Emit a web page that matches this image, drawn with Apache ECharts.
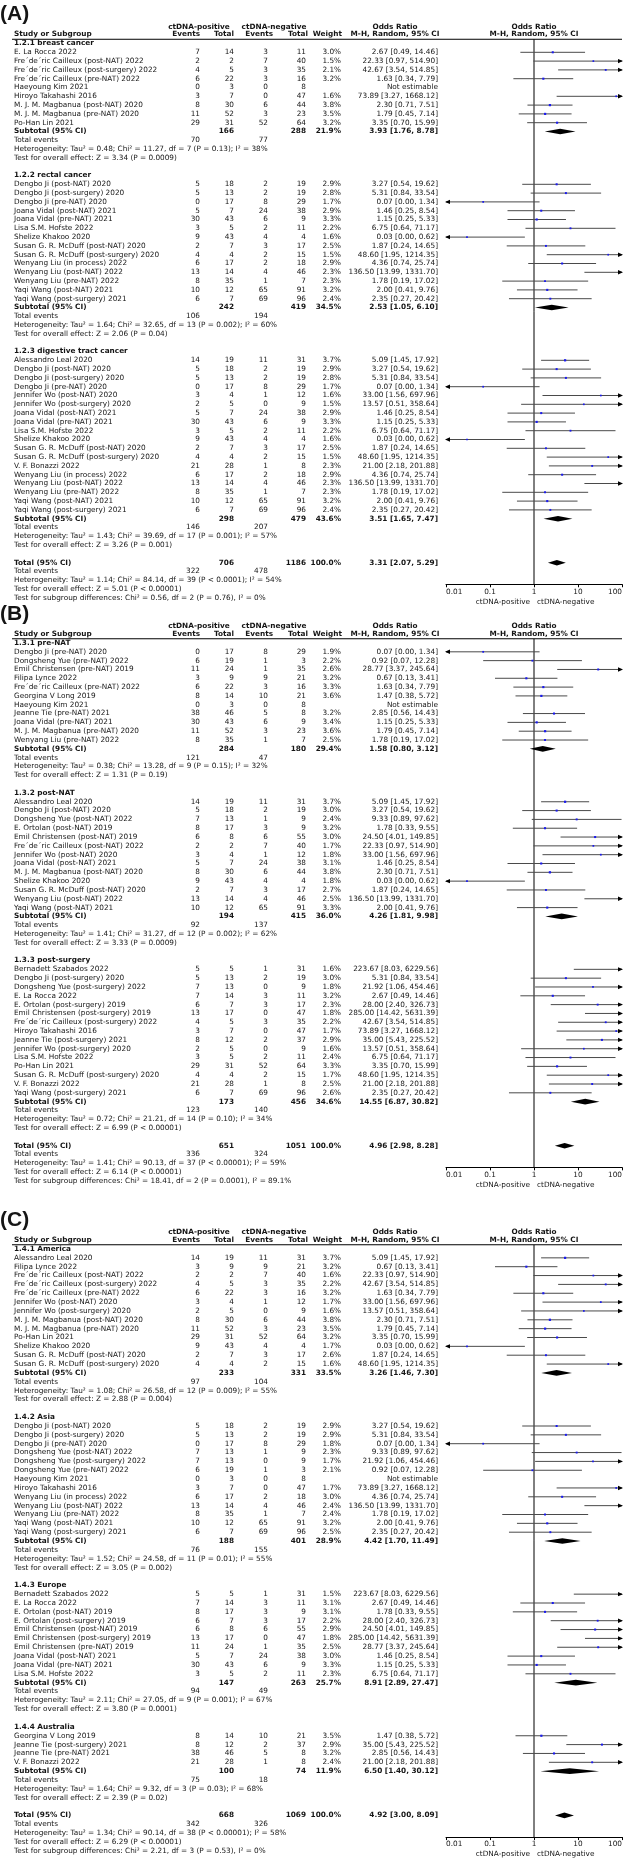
<!DOCTYPE html>
<html><head><meta charset="utf-8">
<script src="https://cdn.jsdelivr.net/npm/echarts/dist/echarts.min.js"></script>
<style>html,body{margin:0;padding:0;background:#fff}#c{width:631px;height:1858px}</style>
</head><body><div id="c"></div>
<script>
// ===================== DATA: Panel A =====================
const A_groupLabels = ["1.2.1 breast cancer", "1.2.2 rectal cancer", "1.2.3 digestive tract cancer"];
const A_groupSizes = [9, 14, 18];
const A_names = [
  "E. La Rocca 2022", "Fre´de´ric Cailleux (post-NAT) 2022", "Fre´de´ric Cailleux (post-surgery) 2022", "Fre´de´ric Cailleux (pre-NAT) 2022",
  "Haeyoung Kim 2021", "Hiroyo Takahashi 2016", "M. J. M. Magbanua (post-NAT) 2020", "M. J. M. Magbanua (pre-NAT) 2020", "Po-Han Lin 2021",
  "Dengbo Ji (post-NAT) 2020", "Dengbo Ji (post-surgery) 2020", "Dengbo Ji (pre-NAT) 2020", "Joana Vidal (post-NAT) 2021", "Joana Vidal (pre-NAT) 2021",
  "Lisa S.M. Hofste 2022", "Shelize Khakoo 2020", "Susan G. R. McDuff (post-NAT) 2020", "Susan G. R. McDuff (post-surgery) 2020",
  "Wenyang Liu (in process) 2022", "Wenyang Liu (post-NAT) 2022", "Wenyang Liu (pre-NAT) 2022", "Yaqi Wang (post-NAT) 2021", "Yaqi Wang (post-surgery) 2021",
  "Alessandro Leal 2020", "Dengbo Ji (post-NAT) 2020", "Dengbo Ji (post-surgery) 2020", "Dengbo Ji (pre-NAT) 2020", "Jennifer Wo (post-NAT) 2020",
  "Jennifer Wo (post-surgery) 2020", "Joana Vidal (post-NAT) 2021", "Joana Vidal (pre-NAT) 2021", "Lisa S.M. Hofste 2022", "Shelize Khakoo 2020",
  "Susan G. R. McDuff (post-NAT) 2020", "Susan G. R. McDuff (post-surgery) 2020", "V. F. Bonazzi 2022", "Wenyang Liu (in process) 2022",
  "Wenyang Liu (post-NAT) 2022", "Wenyang Liu (pre-NAT) 2022", "Yaqi Wang (post-NAT) 2021", "Yaqi Wang (post-surgery) 2021"
];
const A_evPos = [7,2,4,6,0,3,8,11,29, 5,5,0,5,30,3,9,2,4,6,13,8,10,6, 14,5,5,0,3,2,5,30,3,9,2,4,21,6,13,8,10,6];
const A_totPos = [14,2,5,22,3,7,30,52,31, 18,13,17,7,43,5,43,7,4,17,14,35,12,7, 19,18,13,17,4,5,7,43,5,43,7,4,28,17,14,35,12,7];
const A_evNeg = [3,7,3,3,0,0,6,3,52, 2,2,8,24,6,2,4,3,2,2,4,1,65,69, 11,2,2,8,1,0,24,6,2,4,3,2,1,2,4,1,65,69];
const A_totNeg = [11,40,35,16,8,47,44,23,64, 19,19,29,38,9,11,4,17,15,18,46,7,91,96, 31,19,19,29,12,9,38,9,11,4,17,15,8,18,46,7,91,96];
const A_weight = [3.0,1.5,2.1,3.2,null,1.6,3.8,3.5,3.2, 2.9,2.8,1.7,2.9,3.3,2.2,1.6,2.5,1.5,2.9,2.3,2.3,3.2,2.4, 3.7,2.9,2.8,1.7,1.6,1.5,2.9,3.3,2.2,1.6,2.5,1.5,2.3,2.9,2.3,2.3,3.2,2.4];
const A_or = [2.67,22.33,42.67,1.63,null,73.89,2.30,1.79,3.35, 3.27,5.31,0.07,1.46,1.15,6.75,0.03,1.87,48.60,4.36,136.50,1.78,2.00,2.35, 5.09,3.27,5.31,0.07,33.00,13.57,1.46,1.15,6.75,0.03,1.87,48.60,21.00,4.36,136.50,1.78,2.00,2.35];
const A_lo = [0.49,0.97,3.54,0.34,null,3.27,0.71,0.45,0.70, 0.54,0.84,0.00,0.25,0.25,0.64,0.00,0.24,1.95,0.74,13.99,0.19,0.41,0.27, 1.45,0.54,0.84,0.00,1.56,0.51,0.25,0.25,0.64,0.00,0.24,1.95,2.18,0.74,13.99,0.19,0.41,0.27];
const A_hi = [14.46,514.90,514.85,7.79,null,1668.12,7.51,7.14,15.99, 19.62,33.54,1.34,8.54,5.33,71.17,0.62,14.65,1214.35,25.74,1331.70,17.02,9.76,20.42, 17.92,19.62,33.54,1.34,697.96,358.64,8.54,5.33,71.17,0.62,14.65,1214.35,201.88,25.74,1331.70,17.02,9.76,20.42];
const A_subTotPos = [166, 242, 298];
const A_subTotNeg = [288, 419, 479];
const A_subWeight = [21.9, 34.5, 43.6];
const A_subOR = [3.93, 2.53, 3.51];
const A_subLo = [1.76, 1.05, 1.65];
const A_subHi = [8.78, 6.10, 7.47];
const A_subEvPos = [70, 106, 146];
const A_subEvNeg = [77, 194, 207];
const A_subHet = [
  "Heterogeneity: Tau² = 0.48; Chi² = 11.27, df = 7 (P = 0.13); I² = 38%",
  "Heterogeneity: Tau² = 1.64; Chi² = 32.65, df = 13 (P = 0.002); I² = 60%",
  "Heterogeneity: Tau² = 1.43; Chi² = 39.69, df = 17 (P = 0.001); I² = 57%"];
const A_subTest = ["Test for overall effect: Z = 3.34 (P = 0.0009)", "Test for overall effect: Z = 2.06 (P = 0.04)", "Test for overall effect: Z = 3.26 (P = 0.001)"];
const A_allTot = [706, 1186];
const A_allEv = [322, 478];
const A_allOR = [3.31, 2.07, 5.29];
const A_allNotes = [
  "Heterogeneity: Tau² = 1.14; Chi² = 84.14, df = 39 (P < 0.0001); I² = 54%",
  "Test for overall effect: Z = 5.01 (P < 0.00001)",
  "Test for subgroup differences: Chi² = 0.56, df = 2 (P = 0.76), I² = 0%"];

// ===================== DATA: Panel B =====================
const B_groupLabels = ["1.3.1 pre-NAT", "1.3.2 post-NAT", "1.3.3 post-surgery"];
const B_groupSizes = [11, 13, 15];
const B_names = [
  "Dengbo Ji (pre-NAT) 2020", "Dongsheng Yue (pre-NAT) 2022", "Emil Christensen (pre-NAT) 2019", "Filipa Lynce 2022", "Fre´de´ric Cailleux (pre-NAT) 2022",
  "Georgina V Long 2019", "Haeyoung Kim 2021", "Jeanne Tie (pre-NAT) 2021", "Joana Vidal (pre-NAT) 2021", "M. J. M. Magbanua (pre-NAT) 2020", "Wenyang Liu (pre-NAT) 2022",
  "Alessandro Leal 2020", "Dengbo Ji (post-NAT) 2020", "Dongsheng Yue (post-NAT) 2022", "E. Ortolan (post-NAT) 2019", "Emil Christensen (post-NAT) 2019",
  "Fre´de´ric Cailleux (post-NAT) 2022", "Jennifer Wo (post-NAT) 2020", "Joana Vidal (post-NAT) 2021", "M. J. M. Magbanua (post-NAT) 2020", "Shelize Khakoo 2020",
  "Susan G. R. McDuff (post-NAT) 2020", "Wenyang Liu (post-NAT) 2022", "Yaqi Wang (post-NAT) 2021",
  "Bernadett Szabados 2022", "Dengbo Ji (post-surgery) 2020", "Dongsheng Yue (post-surgery) 2022", "E. La Rocca 2022", "E. Ortolan (post-surgery) 2019",
  "Emil Christensen (post-surgery) 2019", "Fre´de´ric Cailleux (post-surgery) 2022", "Hiroyo Takahashi 2016", "Jeanne Tie (post-surgery) 2021",
  "Jennifer Wo (post-surgery) 2020", "Lisa S.M. Hofste 2022", "Po-Han Lin 2021", "Susan G. R. McDuff (post-surgery) 2020", "V. F. Bonazzi 2022", "Yaqi Wang (post-surgery) 2021"
];
const B_evPos = [0,6,11,3,6,8,0,38,30,11,8, 14,5,7,8,6,2,3,5,8,9,2,13,10, 5,5,7,7,6,13,4,3,8,2,3,29,4,21,6];
const B_totPos = [17,19,24,9,22,14,3,46,43,52,35, 19,18,13,17,8,2,4,7,30,43,7,14,12, 5,13,13,14,7,17,5,7,12,5,5,31,4,28,7];
const B_evNeg = [8,1,1,9,3,10,0,5,6,3,1, 11,2,1,3,6,7,1,24,6,4,3,4,65, 1,2,0,3,3,0,3,0,2,0,2,52,2,1,69];
const B_totNeg = [29,3,35,21,16,21,8,8,9,23,7, 31,19,9,9,55,40,12,38,44,4,17,46,91, 31,19,9,11,17,47,35,47,37,9,11,64,15,8,96];
const B_weight = [1.9,2.2,2.6,3.2,3.3,3.6,null,3.2,3.4,3.6,2.5, 3.7,3.0,2.4,3.2,3.0,1.7,1.8,3.1,3.8,1.8,2.7,2.5,3.3, 1.6,3.0,1.8,3.2,2.3,1.8,2.2,1.7,2.9,1.6,2.4,3.3,1.7,2.5,2.6];
const B_or = [0.07,0.92,28.77,0.67,1.63,1.47,null,2.85,1.15,1.79,1.78, 5.09,3.27,9.33,1.78,24.50,22.33,33.00,1.46,2.30,0.03,1.87,136.50,2.00, 223.67,5.31,21.92,2.67,28.00,285.00,42.67,73.89,35.00,13.57,6.75,3.35,48.60,21.00,2.35];
const B_lo = [0.00,0.07,3.37,0.13,0.34,0.38,null,0.56,0.25,0.45,0.19, 1.45,0.54,0.89,0.33,4.01,0.97,1.56,0.25,0.71,0.00,0.24,13.99,0.41, 8.03,0.84,1.06,0.49,2.40,14.42,3.54,3.27,5.43,0.51,0.64,0.70,1.95,2.18,0.27];
const B_hi = [1.34,12.28,245.64,3.41,7.79,5.72,null,14.43,5.33,7.14,17.02, 17.92,19.62,97.62,9.55,149.85,514.90,697.96,8.54,7.51,0.62,14.65,1331.70,9.76, 6229.56,33.54,454.46,14.46,326.73,5631.39,514.85,1668.12,225.52,358.64,71.17,15.99,1214.35,201.88,20.42];
const B_subTotPos = [284, 194, 173];
const B_subTotNeg = [180, 415, 456];
const B_subWeight = [29.4, 36.0, 34.6];
const B_subOR = [1.58, 4.26, 14.55];
const B_subLo = [0.80, 1.81, 6.87];
const B_subHi = [3.12, 9.98, 30.82];
const B_subEvPos = [121, 92, 123];
const B_subEvNeg = [47, 137, 140];
const B_subHet = [
  "Heterogeneity: Tau² = 0.38; Chi² = 13.28, df = 9 (P = 0.15); I² = 32%",
  "Heterogeneity: Tau² = 1.41; Chi² = 31.27, df = 12 (P = 0.002); I² = 62%",
  "Heterogeneity: Tau² = 0.72; Chi² = 21.21, df = 14 (P = 0.10); I² = 34%"];
const B_subTest = ["Test for overall effect: Z = 1.31 (P = 0.19)", "Test for overall effect: Z = 3.33 (P = 0.0009)", "Test for overall effect: Z = 6.99 (P < 0.00001)"];
const B_allTot = [651, 1051];
const B_allEv = [336, 324];
const B_allOR = [4.96, 2.98, 8.28];
const B_allNotes = [
  "Heterogeneity: Tau² = 1.41; Chi² = 90.13, df = 37 (P < 0.00001); I² = 59%",
  "Test for overall effect: Z = 6.14 (P < 0.00001)",
  "Test for subgroup differences: Chi² = 18.41, df = 2 (P = 0.0001), I² = 89.1%"];

// ===================== DATA: Panel C =====================
const C_groupLabels = ["1.4.1 America", "1.4.2 Asia", "1.4.3 Europe", "1.4.4 Australia"];
const C_groupSizes = [13, 13, 10, 4];
const C_names = [
  "Alessandro Leal 2020", "Filipa Lynce 2022", "Fre´de´ric Cailleux (post-NAT) 2022", "Fre´de´ric Cailleux (post-surgery) 2022", "Fre´de´ric Cailleux (pre-NAT) 2022",
  "Jennifer Wo (post-NAT) 2020", "Jennifer Wo (post-surgery) 2020", "M. J. M. Magbanua (post-NAT) 2020", "M. J. M. Magbanua (pre-NAT) 2020", "Po-Han Lin 2021",
  "Shelize Khakoo 2020", "Susan G. R. McDuff (post-NAT) 2020", "Susan G. R. McDuff (post-surgery) 2020",
  "Dengbo Ji (post-NAT) 2020", "Dengbo Ji (post-surgery) 2020", "Dengbo Ji (pre-NAT) 2020", "Dongsheng Yue (post-NAT) 2022", "Dongsheng Yue (post-surgery) 2022",
  "Dongsheng Yue (pre-NAT) 2022", "Haeyoung Kim 2021", "Hiroyo Takahashi 2016", "Wenyang Liu (in process) 2022", "Wenyang Liu (post-NAT) 2022",
  "Wenyang Liu (pre-NAT) 2022", "Yaqi Wang (post-NAT) 2021", "Yaqi Wang (post-surgery) 2021",
  "Bernadett Szabados 2022", "E. La Rocca 2022", "E. Ortolan (post-NAT) 2019", "E. Ortolan (post-surgery) 2019", "Emil Christensen (post-NAT) 2019",
  "Emil Christensen (post-surgery) 2019", "Emil Christensen (pre-NAT) 2019", "Joana Vidal (post-NAT) 2021", "Joana Vidal (pre-NAT) 2021", "Lisa S.M. Hofste 2022",
  "Georgina V Long 2019", "Jeanne Tie (post-surgery) 2021", "Jeanne Tie (pre-NAT) 2021", "V. F. Bonazzi 2022"
];
const C_evPos = [14,3,2,4,6,3,2,8,11,29,9,2,4, 5,5,0,7,7,6,0,3,6,13,8,10,6, 5,7,8,6,6,13,11,5,30,3, 8,8,38,21];
const C_totPos = [19,9,2,5,22,4,5,30,52,31,43,7,4, 18,13,17,13,13,19,3,7,17,14,35,12,7, 5,14,17,7,8,17,24,7,43,5, 14,12,46,28];
const C_evNeg = [11,9,7,3,3,1,0,6,3,52,4,3,2, 2,2,8,1,0,1,0,0,2,4,1,65,69, 1,3,3,3,6,0,1,24,6,2, 10,2,5,1];
const C_totNeg = [31,21,40,35,16,12,9,44,23,64,4,17,15, 19,19,29,9,9,3,8,47,18,46,7,91,96, 31,11,9,17,55,47,35,38,9,11, 21,37,8,8];
const C_weight = [3.7,3.2,1.6,2.2,3.2,1.7,1.6,3.8,3.5,3.2,1.7,2.6,1.6, 2.9,2.9,1.8,2.3,1.7,2.1,null,1.7,3.0,2.4,2.4,3.2,2.5, 1.5,3.1,3.1,2.2,2.9,1.8,2.5,3.0,3.3,2.3, 3.5,2.9,3.2,2.4];
const C_or = [5.09,0.67,22.33,42.67,1.63,33.00,13.57,2.30,1.79,3.35,0.03,1.87,48.60, 3.27,5.31,0.07,9.33,21.92,0.92,null,73.89,4.36,136.50,1.78,2.00,2.35, 223.67,2.67,1.78,28.00,24.50,285.00,28.77,1.46,1.15,6.75, 1.47,35.00,2.85,21.00];
const C_lo = [1.45,0.13,0.97,3.54,0.34,1.56,0.51,0.71,0.45,0.70,0.00,0.24,1.95, 0.54,0.84,0.00,0.89,1.06,0.07,null,3.27,0.74,13.99,0.19,0.41,0.27, 8.03,0.49,0.33,2.40,4.01,14.42,3.37,0.25,0.25,0.64, 0.38,5.43,0.56,2.18];
const C_hi = [17.92,3.41,514.90,514.85,7.79,697.96,358.64,7.51,7.14,15.99,0.62,14.65,1214.35, 19.62,33.54,1.34,97.62,454.46,12.28,null,1668.12,25.74,1331.70,17.02,9.76,20.42, 6229.56,14.46,9.55,326.73,149.85,5631.39,245.64,8.54,5.33,71.17, 5.72,225.52,14.43,201.88];
const C_subTotPos = [233, 188, 147, 100];
const C_subTotNeg = [331, 401, 263, 74];
const C_subWeight = [33.5, 28.9, 25.7, 11.9];
const C_subOR = [3.26, 4.42, 8.91, 6.50];
const C_subLo = [1.46, 1.70, 2.89, 1.40];
const C_subHi = [7.30, 11.49, 27.47, 30.12];
const C_subEvPos = [97, 76, 94, 75];
const C_subEvNeg = [104, 155, 49, 18];
const C_subHet = [
  "Heterogeneity: Tau² = 1.08; Chi² = 26.58, df = 12 (P = 0.009); I² = 55%",
  "Heterogeneity: Tau² = 1.52; Chi² = 24.58, df = 11 (P = 0.01); I² = 55%",
  "Heterogeneity: Tau² = 2.11; Chi² = 27.05, df = 9 (P = 0.001); I² = 67%",
  "Heterogeneity: Tau² = 1.64; Chi² = 9.32, df = 3 (P = 0.03); I² = 68%"];
const C_subTest = ["Test for overall effect: Z = 2.88 (P = 0.004)", "Test for overall effect: Z = 3.05 (P = 0.002)", "Test for overall effect: Z = 3.80 (P = 0.0001)", "Test for overall effect: Z = 2.39 (P = 0.02)"];
const C_allTot = [668, 1069];
const C_allEv = [342, 326];
const C_allOR = [4.92, 3.00, 8.09];
const C_allNotes = [
  "Heterogeneity: Tau² = 1.34; Chi² = 90.14, df = 38 (P < 0.00001); I² = 58%",
  "Test for overall effect: Z = 6.29 (P < 0.00001)",
  "Test for subgroup differences: Chi² = 2.21, df = 3 (P = 0.53), I² = 0%"];

const tickLabels = ["0.01", "0.1", "1", "10", "100"];
const groupHeaders = ["ctDNA-positive", "ctDNA-negative"];

// ===================== LAYOUT =====================
const W = 631;
const FAM = '"DejaVu Sans", Verdana, sans-serif';
// calibrate the table font so one reference line spans the width it has in the picture (~254 px)
const FS = (function () {
  const ctx = document.createElement('canvas').getContext('2d');
  ctx.font = '20px ' + FAM;
  const w20 = ctx.measureText(A_subHet[0]).width;
  const fs = 20 * 254 / w20;
  return Math.max(6.2, Math.min(8.6, fs));
})();
const COL = {name: 14, ev1: 200, tot1: 234, ev2: 268, tot2: 306, wt: 341, or: 438};
const HDR = {pos: 199, neg: 274, orL: 395, orR: 534};
const FOREST = {left: 446, right: 622};
const XMIN = 0.01, XMAX = 100;
const TEXT = '#151515', CI_COLOR = '#4a4a4a', SQ_COLOR = '#1a1aee';

const panels = [
  {label: "(A)", y0: 43.5, p: 8.8, gl: A_groupLabels, gs: A_groupSizes, names: A_names, evPos: A_evPos, totPos: A_totPos, evNeg: A_evNeg, totNeg: A_totNeg,
   weight: A_weight, or: A_or, lo: A_lo, hi: A_hi, sTP: A_subTotPos, sTN: A_subTotNeg, sW: A_subWeight, sOR: A_subOR, sLo: A_subLo, sHi: A_subHi,
   sEP: A_subEvPos, sEN: A_subEvNeg, sHet: A_subHet, sTest: A_subTest, aTot: A_allTot, aEv: A_allEv, aOR: A_allOR, aNotes: A_allNotes},
  {label: "(B)", y0: 643, p: 8.82, gl: B_groupLabels, gs: B_groupSizes, names: B_names, evPos: B_evPos, totPos: B_totPos, evNeg: B_evNeg, totNeg: B_totNeg,
   weight: B_weight, or: B_or, lo: B_lo, hi: B_hi, sTP: B_subTotPos, sTN: B_subTotNeg, sW: B_subWeight, sOR: B_subOR, sLo: B_subLo, sHi: B_subHi,
   sEP: B_subEvPos, sEN: B_subEvNeg, sHet: B_subHet, sTest: B_subTest, aTot: B_allTot, aEv: B_allEv, aOR: B_allOR, aNotes: B_allNotes},
  {label: "(C)", y0: 1249, p: 8.85, gl: C_groupLabels, gs: C_groupSizes, names: C_names, evPos: C_evPos, totPos: C_totPos, evNeg: C_evNeg, totNeg: C_totNeg,
   weight: C_weight, or: C_or, lo: C_lo, hi: C_hi, sTP: C_subTotPos, sTN: C_subTotNeg, sW: C_subWeight, sOR: C_subOR, sLo: C_subLo, sHi: C_subHi,
   sEP: C_subEvPos, sEN: C_subEvNeg, sHet: C_subHet, sTest: C_subTest, aTot: C_allTot, aEv: C_allEv, aOR: C_allOR, aNotes: C_allNotes}
];

function f2(v) { return v.toFixed(2); }
function orText(o, l, h) { return o == null ? "Not estimable" : f2(o) + " [" + f2(l) + ", " + f2(h) + "]"; }

function buildPanel(P) {
  const items = [], marks = [];
  let r = 0, idx = 0;
  P.gl.forEach((lab, g) => {
    items.push({r: r++, els: [{x: COL.name, s: lab, a: 'left', b: true}]});
    for (let j = 0; j < P.gs[g]; j++, idx++) {
      const w = P.weight[idx];
      items.push({r: r, els: [
        {x: COL.name, s: P.names[idx], a: 'left'},
        {x: COL.ev1, s: String(P.evPos[idx]), a: 'right'},
        {x: COL.tot1, s: String(P.totPos[idx]), a: 'right'},
        {x: COL.ev2, s: String(P.evNeg[idx]), a: 'right'},
        {x: COL.tot2, s: String(P.totNeg[idx]), a: 'right'},
        {x: COL.wt, s: w == null ? "" : w.toFixed(1) + "%", a: 'right'},
        {x: COL.or, s: orText(P.or[idx], P.lo[idx], P.hi[idx]), a: 'right'}
      ]});
      if (P.or[idx] != null) marks.push({r: r, kind: 'study', or: P.or[idx], lo: P.lo[idx], hi: P.hi[idx], w: w});
      r++;
    }
    items.push({r: r, els: [
      {x: COL.name, s: "Subtotal (95% CI)", a: 'left', b: true},
      {x: COL.tot1, s: String(P.sTP[g]), a: 'right', b: true},
      {x: COL.tot2, s: String(P.sTN[g]), a: 'right', b: true},
      {x: COL.wt, s: P.sW[g].toFixed(1) + "%", a: 'right', b: true},
      {x: COL.or, s: orText(P.sOR[g], P.sLo[g], P.sHi[g]), a: 'right', b: true}
    ]});
    marks.push({r: r, kind: 'diamond', or: P.sOR[g], lo: P.sLo[g], hi: P.sHi[g]});
    r++;
    items.push({r: r++, els: [
      {x: COL.name, s: "Total events", a: 'left'},
      {x: COL.ev1, s: String(P.sEP[g]), a: 'right'},
      {x: COL.ev2, s: String(P.sEN[g]), a: 'right'}
    ]});
    items.push({r: r++, els: [{x: COL.name, s: P.sHet[g], a: 'left'}]});
    items.push({r: r++, els: [{x: COL.name, s: P.sTest[g], a: 'left'}]});
    r++;
  });
  const totalRow = r;
  items.push({r: r, els: [
    {x: COL.name, s: "Total (95% CI)", a: 'left', b: true},
    {x: COL.tot1, s: String(P.aTot[0]), a: 'right', b: true},
    {x: COL.tot2, s: String(P.aTot[1]), a: 'right', b: true},
    {x: COL.wt, s: "100.0%", a: 'right', b: true},
    {x: COL.or, s: orText(P.aOR[0], P.aOR[1], P.aOR[2]), a: 'right', b: true}
  ]});
  marks.push({r: r, kind: 'diamond', or: P.aOR[0], lo: P.aOR[1], hi: P.aOR[2]});
  r++;
  items.push({r: r++, els: [
    {x: COL.name, s: "Total events", a: 'left'},
    {x: COL.ev1, s: String(P.aEv[0]), a: 'right'},
    {x: COL.ev2, s: String(P.aEv[1]), a: 'right'}
  ]});
  P.aNotes.forEach(t => items.push({r: r++, els: [{x: COL.name, s: t, a: 'left'}]}));
  const lastRow = r - 1;
  const axisRow = totalRow + 2.45;
  items.push({r: -3.3, els: [{x: 0, s: P.label, a: 'left', big: true}]});
  items.push({r: -1.9, els: [
    {x: HDR.pos, s: groupHeaders[0], a: 'center', b: true},
    {x: HDR.neg, s: groupHeaders[1], a: 'center', b: true},
    {x: HDR.orL, s: "Odds Ratio", a: 'center', b: true},
    {x: HDR.orR, s: "Odds Ratio", a: 'center', b: true}
  ]});
  items.push({r: -1.05, els: [
    {x: COL.name, s: "Study or Subgroup", a: 'left', b: true},
    {x: COL.ev1, s: "Events", a: 'right', b: true},
    {x: COL.tot1, s: "Total", a: 'right', b: true},
    {x: COL.ev2 + 5, s: "Events", a: 'right', b: true},
    {x: COL.tot2 + 2, s: "Total", a: 'right', b: true},
    {x: COL.wt + 1, s: "Weight", a: 'right', b: true},
    {x: HDR.orL, s: "M-H, Random, 95% CI", a: 'center', b: true},
    {x: HDR.orR, s: "M-H, Random, 95% CI", a: 'center', b: true}
  ]});
  items.push({r: -0.48, rule: [12, FOREST.right], els: []});
  items.push({r: axisRow + 1.97, els: [
    {x: 530, s: groupHeaders[0], a: 'right'},
    {x: 537, s: groupHeaders[1], a: 'left'}
  ]});
  return {items, marks, totalRow, lastRow, axisRow};
}

function textEl(x, y, e) {
  const st = {text: e.s, fill: TEXT, align: e.a, textAlign: e.a, verticalAlign: 'middle', textVerticalAlign: 'middle'};
  if (e.big) { st.fontSize = 21; st.fontWeight = 'bold'; st.fontFamily = '"Liberation Sans", Arial, sans-serif'; }
  else { st.fontSize = FS; st.fontWeight = e.b ? 'bold' : 'normal'; st.fontFamily = FAM; }
  return {type: 'text', x: x, y: y, silent: true, style: st};
}

function arrowEl(x, y, dir) {
  return {type: 'polygon', shape: {points: [[x + dir * 1, y], [x - dir * 4, y - 2.2], [x - dir * 4, y + 2.2]]}, style: {fill: '#000'}};
}

const grids = [], xAxes = [], yAxes = [], series = [];
panels.forEach((P, k) => {
  const B = buildPanel(P);
  const rMin = -5, rMax = B.lastRow + 2.8;
  grids.push({left: 0, width: W, top: P.y0 + rMin * P.p, height: (rMax - rMin) * P.p, outerBoundsMode: 'none', containLabel: false});
  grids.push({left: FOREST.left, width: FOREST.right - FOREST.left, top: P.y0 - 0.48 * P.p, height: (B.axisRow + 0.48) * P.p, outerBoundsMode: 'none', containLabel: false});
  xAxes.push({gridIndex: 2 * k, type: 'value', min: 0, max: W, show: false});
  yAxes.push({gridIndex: 2 * k, type: 'value', min: rMin, max: rMax, inverse: true, show: false});
  xAxes.push({gridIndex: 2 * k + 1, type: 'log', logBase: 10, min: XMIN, max: XMAX, position: 'bottom',
    axisLine: {show: true, onZero: false, lineStyle: {color: '#000', width: 1}},
    axisTick: {show: true, length: 3, lineStyle: {color: '#000', width: 1}},
    minorTick: {show: false}, splitLine: {show: false},
    axisLabel: {show: true, fontSize: FS, fontFamily: FAM, color: TEXT, margin: 4, showMinLabel: true, showMaxLabel: true,
      alignMinLabel: 'left', alignMaxLabel: 'right',
      formatter: v => tickLabels[Math.round(Math.log10(v)) + 2]}});
  yAxes.push({gridIndex: 2 * k + 1, type: 'value', min: -0.48, max: B.axisRow, inverse: true, show: false});

  const items = B.items, marks = B.marks;
  series.push({
    type: 'custom', coordinateSystem: 'cartesian2d', xAxisIndex: 2 * k, yAxisIndex: 2 * k, clip: false, silent: true,
    data: items.map(it => [0, it.r]),
    renderItem: function (params, api) {
      const it = items[params.dataIndex];
      const ch = [];
      const y = api.coord([0, it.r])[1];
      it.els.forEach(e => { ch.push(textEl(api.coord([e.x, it.r])[0], y, e)); });
      if (it.rule) {
        const x1 = api.coord([it.rule[0], it.r])[0], x2 = api.coord([it.rule[1], it.r])[0];
        ch.push({type: 'line', shape: {x1: x1, y1: y, x2: x2, y2: y}, style: {stroke: '#000', lineWidth: 1}});
      }
      return {type: 'group', children: ch};
    }
  });
  series.push({
    type: 'custom', coordinateSystem: 'cartesian2d', xAxisIndex: 2 * k + 1, yAxisIndex: 2 * k + 1, clip: false, silent: true, z: 5,
    data: marks.map(m => [m.or, m.r]),
    renderItem: function (params, api) {
      const m = marks[params.dataIndex];
      const ch = [];
      const y = api.coord([1, m.r])[1];
      if (m.kind === 'study') {
        const lo = Math.max(m.lo, XMIN), hi = Math.min(m.hi, XMAX);
        const x1 = api.coord([lo, m.r])[0], x2 = api.coord([hi, m.r])[0];
        ch.push({type: 'line', shape: {x1: x1, y1: y, x2: x2, y2: y}, style: {stroke: CI_COLOR, lineWidth: 1}});
        if (m.hi > XMAX) ch.push(arrowEl(x2, y, 1));
        if (m.lo < XMIN) ch.push(arrowEl(x1, y, -1));
        if (m.or >= XMIN && m.or <= XMAX) {
          const x = api.coord([m.or, m.r])[0];
          const s = 1.3 + m.w * 0.25;
          ch.push({type: 'rect', shape: {x: x - s / 2, y: y - s / 2, width: s, height: s}, style: {fill: SQ_COLOR}});
        }
      } else {
        const xl = api.coord([m.lo, m.r])[0], xc = api.coord([m.or, m.r])[0], xh = api.coord([m.hi, m.r])[0];
        ch.push({type: 'polygon', shape: {points: [[xl, y], [xc, y - 2.8], [xh, y], [xc, y + 2.8]]}, style: {fill: '#000'}});
      }
      return {type: 'group', children: ch};
    }
  });
  series.push({
    type: 'line', xAxisIndex: 2 * k + 1, yAxisIndex: 2 * k + 1, symbol: 'none', silent: true, z: 3,
    lineStyle: {color: '#000', width: 1},
    data: [[1, -0.48], [1, B.axisRow]]
  });
});

const chart = echarts.init(document.getElementById('c'), null, {renderer: 'canvas'});
chart.setOption({
  animation: false,
  backgroundColor: '#fff',
  grid: grids, xAxis: xAxes, yAxis: yAxes, series: series
});
</script></body></html>
